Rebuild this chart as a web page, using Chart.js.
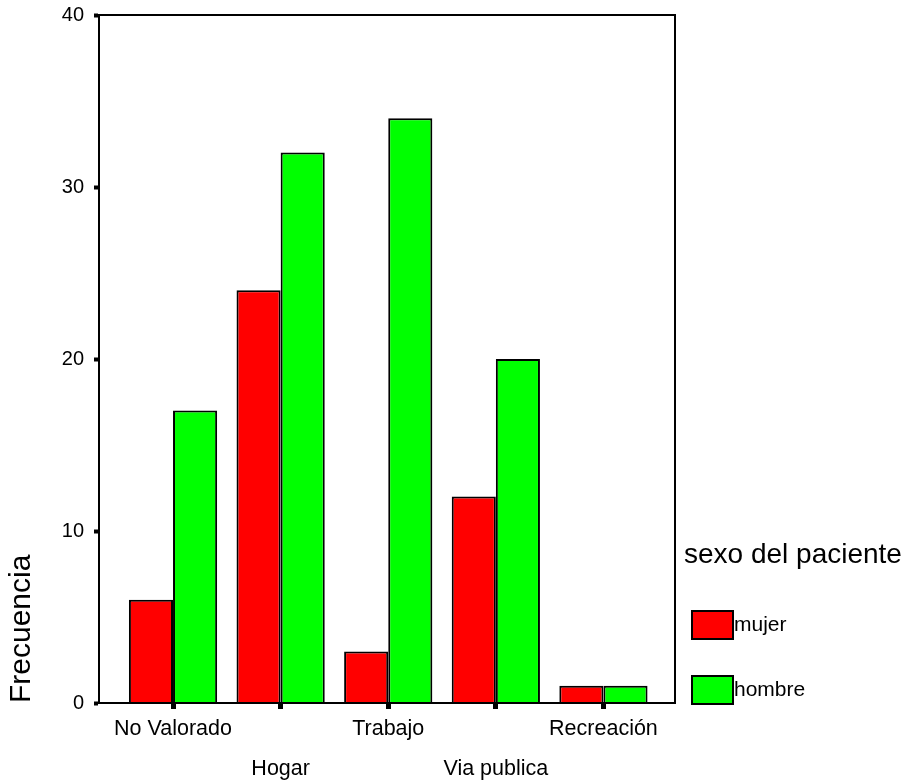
<!DOCTYPE html>
<html>
<head>
<meta charset="utf-8">
<script src="https://cdn.jsdelivr.net/npm/chart.js@4/dist/chart.umd.min.js"></script>
<style>
html,body{margin:0;padding:0;background:#fff;}
#wrap{width:911px;height:784px;position:relative;}
</style>
</head>
<body>
<div id="wrap"><canvas id="c" width="911" height="784"></canvas></div>
<script>
// ---- data ----
const categories = ['No Valorado', 'Hogar', 'Trabajo', 'Via publica', 'Recreación'];
const mujer = [6, 24, 3, 12, 1];
const hombre = [17, 32, 34, 20, 1];
const seriesNames = ['mujer', 'hombre'];
const yTickValues = [0, 10, 20, 30, 40];
const legendTitle = 'sexo del paciente';
const yTitle = 'Frecuencia';

const FONT = 'Arial, "Liberation Sans", sans-serif';

const toXY = arr => arr.map((v, i) => ({ x: i, y: v }));

const framePlugin = {
  id: 'frame',
  afterDraw(chart) {
    const { ctx, chartArea: a } = chart;
    ctx.save();
    ctx.strokeStyle = '#000';
    ctx.lineWidth = 2;
    ctx.strokeRect(a.left, a.top, a.right - a.left, a.bottom - a.top);
    ctx.restore();
  }
};

const legendPlugin = {
  id: 'sideLegend',
  afterDraw(chart) {
    const { ctx, chartArea: a } = chart;
    ctx.save();
    ctx.fillStyle = '#000';
    ctx.textBaseline = 'middle';
    ctx.textAlign = 'left';
    ctx.font = '28px ' + FONT;
    ctx.fillText(legendTitle, a.right + 9, a.bottom - 148);
    ctx.font = '21px ' + FONT;
    chart.data.datasets.forEach((ds, i) => {
      const y = a.bottom - 92 + i * 65;
      const x = a.right + 17;
      ctx.fillStyle = ds.backgroundColor;
      ctx.fillRect(x, y, 41, 28);
      ctx.strokeStyle = '#000';
      ctx.lineWidth = 2;
      ctx.strokeRect(x, y, 41, 28);
      ctx.fillStyle = '#000';
      ctx.fillText(ds.label, x + 42, y + 14);
    });
    ctx.restore();
  }
};

new Chart(document.getElementById('c'), {
  type: 'bar',
  data: {
    datasets: [
      { label: seriesNames[0], data: toXY(mujer), backgroundColor: '#ff0000', borderColor: '#000', borderWidth: 2 },
      { label: seriesNames[1], data: toXY(hombre), backgroundColor: '#00ff00', borderColor: '#000', borderWidth: 2 }
    ]
  },
  options: {
    responsive: false,
    animation: false,
    layout: { padding: { top: 15, right: 236, bottom: 0, left: 0 } },
    datasets: { bar: { categoryPercentage: 0.82, barPercentage: 1.0 } },
    plugins: { legend: { display: false }, tooltip: { enabled: false } },
    scales: {
      x: {
        type: 'linear',
        offset: false,
        min: -0.688,
        max: 4.665,
        afterBuildTicks: s => { s.ticks = categories.map((c, i) => ({ value: i })); },
        afterFit: s => { s.height = 81; s.paddingLeft = 0; s.paddingRight = 0; },
        grid: { offset: false, drawOnChartArea: false, drawTicks: true, tickLength: 6, tickWidth: 5, tickColor: '#000', color: '#000' },
        border: { display: true, color: '#000', width: 2 },
        ticks: {
          autoSkip: false,
          maxRotation: 0,
          minRotation: 0,
          padding: 0,
          color: '#000',
          font: { family: FONT, size: 21.5, lineHeight: 40 / 21.5 },
          callback: v => {
            const i = Math.round(v);
            const name = categories[i];
            if (name === undefined) return '';
            return i % 2 === 0 ? [name] : ['', name];
          }
        }
      },
      y: {
        type: 'linear',
        min: 0,
        max: 40,
        afterBuildTicks: s => { s.ticks = yTickValues.map(v => ({ value: v })); },
        afterFit: s => { s.width = 99; s.paddingTop = 0; s.paddingBottom = 0; },
        grid: { drawOnChartArea: false, drawTicks: true, tickLength: 5, tickWidth: 4, tickColor: '#000', color: '#000' },
        border: { display: true, color: '#000', width: 2 },
        ticks: { padding: 10, color: '#000', font: { family: FONT, size: 20 } },
        title: {
          display: true,
          text: yTitle,
          align: 'start',
          color: '#000',
          font: { family: FONT, size: 30 },
          padding: { top: 4, bottom: 0 }
        }
      }
    }
  },
  plugins: [framePlugin, legendPlugin]
});
</script>
</body>
</html>
